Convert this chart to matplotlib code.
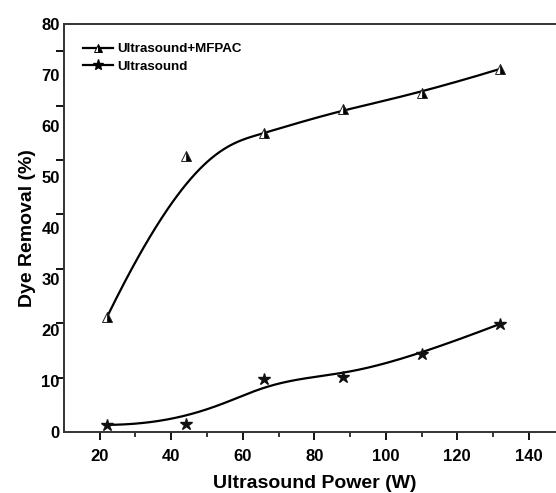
import numpy as np
import matplotlib
matplotlib.use("Agg")
import matplotlib.pyplot as plt

plt.rcParams['font.family'] = ['Liberation Sans', 'DejaVu Sans']
plt.rcParams['font.weight'] = 'bold'

# data
power = [22, 44, 66, 88, 110, 132]
removal_mfpac = [22.5, 54.1, 58.6, 63.3, 66.5, 71.2]
removal_us = [1.4, 1.5, 10.4, 10.8, 15.3, 21.2]
y_labels = [0, 10, 20, 30, 40, 50, 60, 70, 80]
x_major = [20, 40, 60, 80, 100, 120, 140]
x_minor = [30, 50, 70, 90, 110, 130]

TICK_STEP = 10.67  # tick marks on y sit a bit off the labels in the original


def bspline(px, py, num=300, k=3):
    # clamped cubic B-spline using the data points as control points
    n = len(px)
    inner = np.linspace(0, 1, n - k + 1)[1:-1]
    t = np.concatenate([np.zeros(k + 1), inner, np.ones(k + 1)])
    u = np.linspace(0, 1 - 1e-9, num)

    def basis(i, p, u):
        if p == 0:
            return ((t[i] <= u) & (u < t[i + 1])).astype(float)
        a = 0.0
        b = 0.0
        if t[i + p] != t[i]:
            a = (u - t[i]) / (t[i + p] - t[i]) * basis(i, p - 1, u)
        if t[i + p + 1] != t[i + 1]:
            b = (t[i + p + 1] - u) / (t[i + p + 1] - t[i + 1]) * basis(i + 1, p - 1, u)
        return a + b

    B = np.array([basis(i, k, u) for i in range(n)])
    return B.T @ np.array(px, float), B.T @ np.array(py, float)


fig = plt.figure(figsize=(5.56, 4.93), dpi=100)
ax = fig.add_axes([0.1151, 0.1237, 0.9002, 0.8276])

cx, cy = bspline(power, removal_mfpac)
ax.plot(cx, cy, color='black', lw=1.6, zorder=2)
cx, cy = bspline(power, removal_us)
ax.plot(cx, cy, color='black', lw=1.6, zorder=2)

ax.plot(power, removal_mfpac, ls='none', marker='^', ms=7.5, fillstyle='right',
        mfc='black', mfcalt='white', mec='#222222', mew=0.7, zorder=3)
ax.plot(power, removal_us, ls='none', marker='*', ms=9, color='#111111', zorder=3)

# legend proxies
ax.plot([], [], color='black', lw=1.6, marker='^', ms=6, fillstyle='right',
        mfc='black', mfcalt='white', mec='black', mew=0.7, label='Ultrasound+MFPAC')
ax.plot([], [], color='black', lw=1.6, marker='*', ms=8, label='Ultrasound')
ax.legend(loc='upper left', bbox_to_anchor=(0.024, 0.97), frameon=False,
          borderpad=0, handlelength=2.3, handletextpad=0.3, labelspacing=0.4,
          prop={'size': 9.6, 'weight': 'bold'})

ax.set_xlim(10, 150)
ax.set_ylim(0, 80)

ax.set_xticks(x_major)
ax.set_xticks(x_minor, minor=True)
ax.tick_params(axis='x', which='major', direction='out', length=6, width=1.3,
               labelsize=12, pad=6)
ax.tick_params(axis='x', which='minor', direction='out', length=3.5, width=1.1)

ax.set_yticks(y_labels)
ax.set_yticks(np.arange(8) * TICK_STEP, minor=True)
ax.tick_params(axis='y', which='major', length=0, labelsize=12, pad=3)
ax.tick_params(axis='y', which='minor', direction='out', length=6, width=1.3)

for lab in ax.get_xticklabels() + ax.get_yticklabels():
    lab.set_fontweight('bold')

for side in ['left', 'bottom', 'top', 'right']:
    ax.spines[side].set_linewidth(1.4)
    ax.spines[side].set_color('#333333')

ax.set_xlabel('Ultrasound Power (W)', fontsize=14, fontweight='bold', labelpad=8)
ax.set_ylabel('Dye Removal (%)', fontsize=14, fontweight='bold', labelpad=4)

fig.savefig('out.png', dpi=100)
